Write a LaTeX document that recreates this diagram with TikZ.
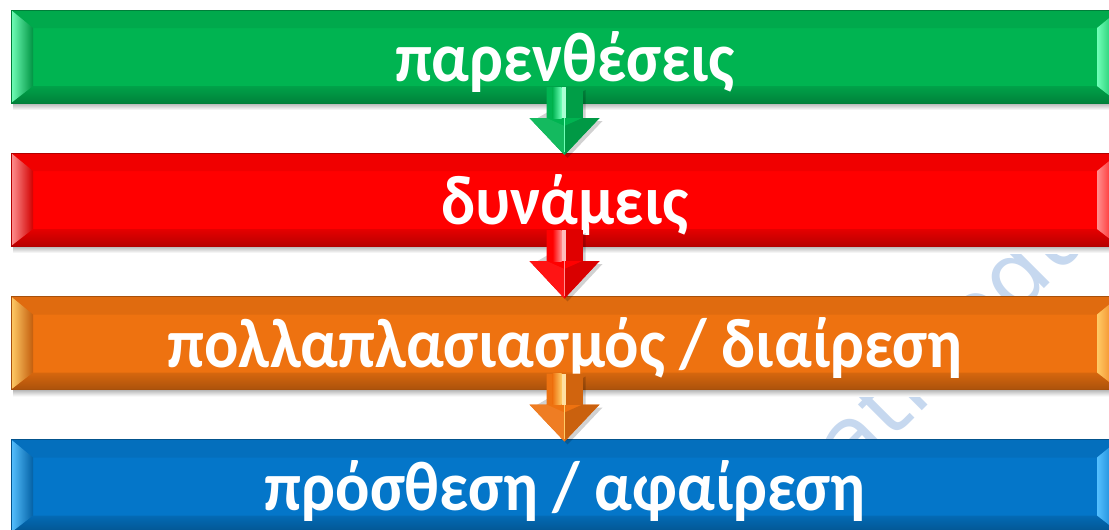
\documentclass[tikz,border=0pt]{standalone}
\usepackage{fontspec}
\setmainfont{Carlito}
\newfontfamily\lblfont{Carlito}[FakeStretch=0.915]
\newfontfamily\wmfont{DejaVu Sans}
\usetikzlibrary{calc}
\definecolor{gmain}{HTML}{00B451}
\definecolor{glight}{HTML}{70FFB8}
\definecolor{rmain}{HTML}{FF0000}
\definecolor{rlight}{HTML}{FF9090}
\definecolor{omain}{HTML}{EE7210}
\definecolor{olight}{HTML}{FFCB66}
\definecolor{bmain}{HTML}{0476C9}
\definecolor{blight}{HTML}{55C0FF}
\definecolor{wmblue}{HTML}{C6D8EF}
\tikzset{
  barbox/.style={minimum width=1108pt, minimum height=93pt, inner sep=0pt, outer sep=0pt},
  lbl/.style={text=white, font=\lblfont\bfseries\fontsize{70}{76}\selectfont, anchor=base, inner sep=0pt},
  wm/.style={text=wmblue, font=\wmfont\fontsize{90}{96}\selectfont, anchor=base west, inner sep=0pt}
}
\newcommand\bevelbar[3]{%
  \shade[top color=black!30, bottom color=white] ($(#1.south west)+(2,0)$) rectangle ($(#1.south east)+(0,7)$);
  \fill[#2] (#1.north west) rectangle (#1.south east);
  \fill[#2!94!black] (#1.north west) -- (#1.north east) -- ($(#1.north east)+(-22,18)$) -- ($(#1.north west)+(22,18)$) -- cycle;
  \shade[top color=#2!90!black, bottom color=#2!72!black] (#1.south west) -- ($(#1.south west)+(22,-17)$) -- ($(#1.south east)+(-22,-17)$) -- (#1.south east) -- cycle;
  \shade[left color=#3, right color=#2!82!black] (#1.north west) -- ($(#1.north west)+(22,18)$) -- ($(#1.south west)+(22,-17)$) -- (#1.south west) -- cycle;
  \shade[left color=#3, right color=#2] (#1.north east) -- ($(#1.north east)+(-22,18)$) -- ($(#1.south east)+(-22,-17)$) -- (#1.south east) -- cycle;
  \draw[#2!70!black, line width=0.8pt] (#1.south west) rectangle (#1.north east);
}
\newcommand\blockarrow[4]{%
  \coordinate (S) at ($(#1.south)+(-0.5,-16)$);
  \coordinate (H) at ($(#1.south)+(-0.5,15)$);
  \coordinate (T) at ($(#2.north)+(-0.5,2)$);
  \fill[black, opacity=0.18] ($(S)+(21,3)$) -- ($(H)+(21,3)$) -- ($(H)+(38,3)$) -- ($(T)+(3,3)$) -- ($(H)+(-32,3)$) -- cycle;
  \fill[#3] ($(S)+(-18,0)$) -- ($(S)+(18,0)$) -- ($(H)+(18,0)$) -- ($(H)+(35,0)$) -- (T) -- ($(H)+(-35,0)$) -- ($(H)+(-18,0)$) -- cycle;
  \shade[left color=#3, right color=#4] ($(S)+(-12,0)$) rectangle ($(H)+(-3,0)$);
  \fill[#4!60!white] ($(S)+(-3,0)$) rectangle ($(H)+(1,0)$);
  \fill[#3!88!black] ($(S)+(1,0)$) rectangle ($(H)+(18,0)$);
  \fill[#3!92!white] ($(H)+(-35,0)$) -- ($(H)+(-18,0)$) -- ($(H)+(0,8)$) -- (T) -- cycle;
  \fill[#3!85!black] ($(H)+(35,0)$) -- ($(H)+(18,0)$) -- ($(H)+(0,8)$) -- (T) -- cycle;
  \draw[#4, line width=1.2pt] ($(H)+(0,0)$) -- ($(T)+(0,-3)$);
}
\begin{document}
\begin{tikzpicture}[x=1pt,y=-1pt]
\useasboundingbox (0,0) rectangle (1109,530);
\clip (0,0) rectangle (1109,530);
\fill[white] (0,0) rectangle (1109,530);
% watermark
\node[wm, rotate=45] (wm) at (790,543) {math.edu};
% bars
\node[barbox] (b1) at (565,56.5) {};
\node[barbox] (b2) at (565,199.5) {};
\node[barbox] (b3) at (565,343) {};
\node[barbox] (b4) at (565,486) {};
\bevelbar{b1}{gmain}{glight}
\bevelbar{b2}{rmain}{rlight}
\bevelbar{b3}{omain}{olight}
\bevelbar{b4}{bmain}{blight}
% labels
\node[lbl] (t1) at ([yshift=-71pt]b1.north) {παρενθέσεις};
\node[lbl] (t2) at ([yshift=-71pt]b2.north) {δυνάμεις};
\node[lbl] (t3) at ([yshift=-71pt]b3.north) {πολλαπλασιασμός / διαίρεση};
\node[lbl] (t4) at ([yshift=-71pt]b4.north) {πρόσθεση / αφαίρεση};
% arrows
\blockarrow{b1}{b2}{gmain}{glight}
\blockarrow{b2}{b3}{rmain}{rlight}
\blockarrow{b3}{b4}{omain}{olight}
\end{tikzpicture}
\end{document}
